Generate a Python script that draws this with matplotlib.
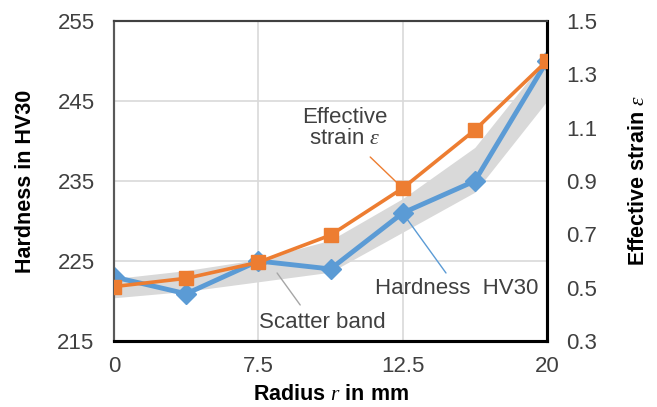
import numpy as np
import matplotlib
matplotlib.use("Agg")
import matplotlib.pyplot as plt

plt.rcParams["font.family"] = ["Liberation Sans", "DejaVu Sans"]
plt.rcParams["mathtext.fontset"] = "custom"
plt.rcParams["mathtext.it"] = "Liberation Serif:italic"
plt.rcParams["mathtext.rm"] = "Liberation Sans"

radius_labels = ["0", "", "7.5", "", "12.5", "", "20"]
hardness = [223.0, 220.9, 225.0, 224.0, 231.0, 235.0, 250.0]
strain = [0.504, 0.535, 0.595, 0.697, 0.873, 1.091, 1.351]
band_low = [220.4, 221.2, 222.4, 223.6, 228.6, 233.6, 245.0]
band_high = [222.8, 223.8, 225.2, 227.6, 232.8, 239.2, 250.5]

ORANGE = "#ED7D31"
BLUE = "#5B9BD5"
GRID = "#D9D9D9"
TXT = "#404040"

fig = plt.figure(figsize=(6.57, 4.07), dpi=100)
ax = fig.add_axes([0.1735, 0.1622, 0.6591, 0.7862])
ax2 = ax.twinx()

x = np.arange(len(hardness))

ax.fill_between(x, band_low, band_high, color="#D9D9D9", lw=0, zorder=1)
ax.plot(x, hardness, "-D", color=BLUE, lw=3.5, ms=10, zorder=3)
ax2.plot(x, strain, "-s", color=ORANGE, lw=2.6, ms=10, zorder=3)

ax.set_xlim(0, 6)
ax.set_ylim(215, 255)
ax.set_yticks([215, 225, 235, 245, 255])
ax2.set_ylim(0.3, 1.5)
ax2.set_yticks([0.3, 0.5, 0.7, 0.9, 1.1, 1.3, 1.5])
ax.set_xticks([0, 2, 4, 6])
ax.set_xticklabels([radius_labels[i] for i in [0, 2, 4, 6]])

ax.grid(True, color=GRID, lw=1.2, zorder=0)
ax.set_axisbelow(True)

ax.tick_params(axis="both", length=0, labelsize=16, colors=TXT)
ax.tick_params(axis="x", pad=11)
ax.tick_params(axis="y", pad=14)
ax2.tick_params(axis="y", length=0, labelsize=16, colors=TXT, pad=14)

for a in (ax, ax2):
    a.spines["left"].set_color("#595959")
    a.spines["left"].set_linewidth(1.5)
    a.spines["top"].set_color("#404040")
    a.spines["top"].set_linewidth(1.5)
    a.spines["bottom"].set_color("black")
    a.spines["bottom"].set_linewidth(2.2)
    a.spines["right"].set_color("black")
    a.spines["right"].set_linewidth(2.2)

ax.set_xlabel(r"Radius $r$ in mm", fontsize=15.5, fontweight="bold", labelpad=5)
ax.set_ylabel("Hardness in HV30", fontsize=15.5, fontweight="bold", labelpad=15)
ax2.set_ylabel(r"Effective strain $\varepsilon$", fontsize=15.5,
               fontweight="bold", labelpad=22)

# annotations with leader lines
ax2.text(3.2, 1.1, "Effective\nstrain $\\varepsilon$", ha="center", va="center",
         fontsize=16, color=TXT, linespacing=1.0)
ax2.annotate("", xy=(4, strain[4]), xytext=(3.55, 0.99),
             arrowprops=dict(arrowstyle="-", color=ORANGE, lw=1,
                             shrinkA=0, shrinkB=0))
ax.text(4.75, 221.6, "Hardness  HV30", ha="center", va="center",
        fontsize=16, color=TXT)
ax.annotate("", xy=(4, hardness[4]), xytext=(4.6, 223.5),
            arrowprops=dict(arrowstyle="-", color=BLUE, lw=1,
                            shrinkA=0, shrinkB=0))
ax.text(2.89, 217.25, "Scatter band", ha="center", va="center",
        fontsize=16, color=TXT)
ax.annotate("", xy=(2.26, 223.5), xytext=(2.58, 219.5),
            arrowprops=dict(arrowstyle="-", color="#A6A6A6", lw=1,
                            shrinkA=0, shrinkB=0))

fig.savefig("out.png", dpi=100)
